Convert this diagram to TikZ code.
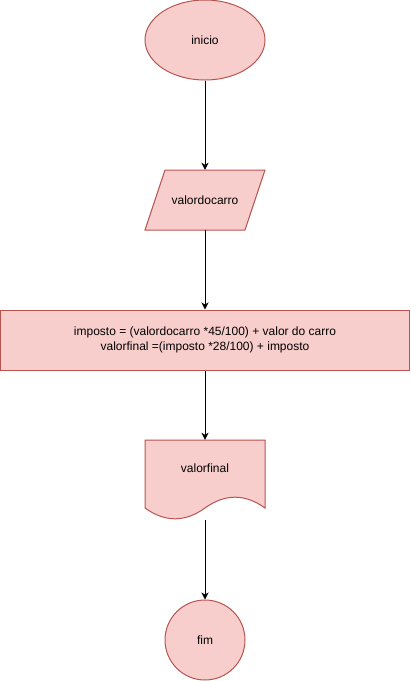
\documentclass[tikz,border=0pt]{standalone}
\usepackage{fontspec}
\setmainfont{Liberation Sans}
\usepackage{xcolor}
\usepackage{tikz}
\usetikzlibrary{shapes.geometric, arrows.meta, positioning, backgrounds}

\definecolor{boxfill}{HTML}{F8CECC}
\definecolor{boxdraw}{HTML}{B85450}

\begin{document}
\begin{tikzpicture}[x=1pt, y=-1pt,
    % Styles
    base/.style={
        fill=boxfill,
        draw=boxdraw,
        line width=1pt,
        inner sep=0pt,
        align=center,
        font=\fontsize{12}{14.4}\selectfont
    },
    startstop/.style={base, ellipse, minimum width=120pt, minimum height=80pt},
    inout/.style={rectangle, inner sep=0pt, minimum width=120pt, minimum height=60pt,
        font=\fontsize{12}{14.4}\selectfont},
    process/.style={base, rectangle, minimum width=409pt, minimum height=60pt},
    docnode/.style={rectangle, inner sep=0pt, minimum width=120pt,
        text height=32pt, text depth=48pt, font=\fontsize{12}{14.4}\selectfont},
    outline/.style={fill=boxfill, draw=boxdraw, line width=1pt},
    endnode/.style={base, circle, minimum size=80pt},
    arrow/.style={
        -{Stealth[length=7pt, width=7pt, inset=2pt]},
        line width=1pt,
        color=black
    }
]
\useasboundingbox (0,0) rectangle (411,681);

% Flow nodes
\node[startstop] (inicio) at (205,40) {inicio};
\node[inout] (carro) at (205,200) {valordocarro};
\node[process] (calc) at (205,340) {imposto = (valordocarro *45/100) + valor do carro\\
    valorfinal =(imposto *28/100) + imposto};
\node[docnode] (final) at (205,480) {valorfinal};
\node[endnode] (fim) at (205,640) {fim};

% Outlines of parallelogram and document
\begin{scope}[on background layer]
\draw[outline, shift={(carro.center)}] (-40,-30) -- (60,-30) -- (40,30) -- (-60,30) -- cycle;
\draw[outline, shift={(final.center)}] (-60,-40) -- (60,-40) -- (60,28)
    .. controls (40,13.6) and (20,13.6) .. (0,28)
    .. controls (-20,42.4) and (-40,42.4) .. (-60,28) -- cycle;
\end{scope}

% Arrows
\draw[arrow] (inicio.south) -- (carro.north);
\draw[arrow] (carro.south) -- (calc.north);
\draw[arrow] (calc.south) -- (final.north);
\draw[arrow] (final.south) -- (fim.north);

\end{tikzpicture}
\end{document}
